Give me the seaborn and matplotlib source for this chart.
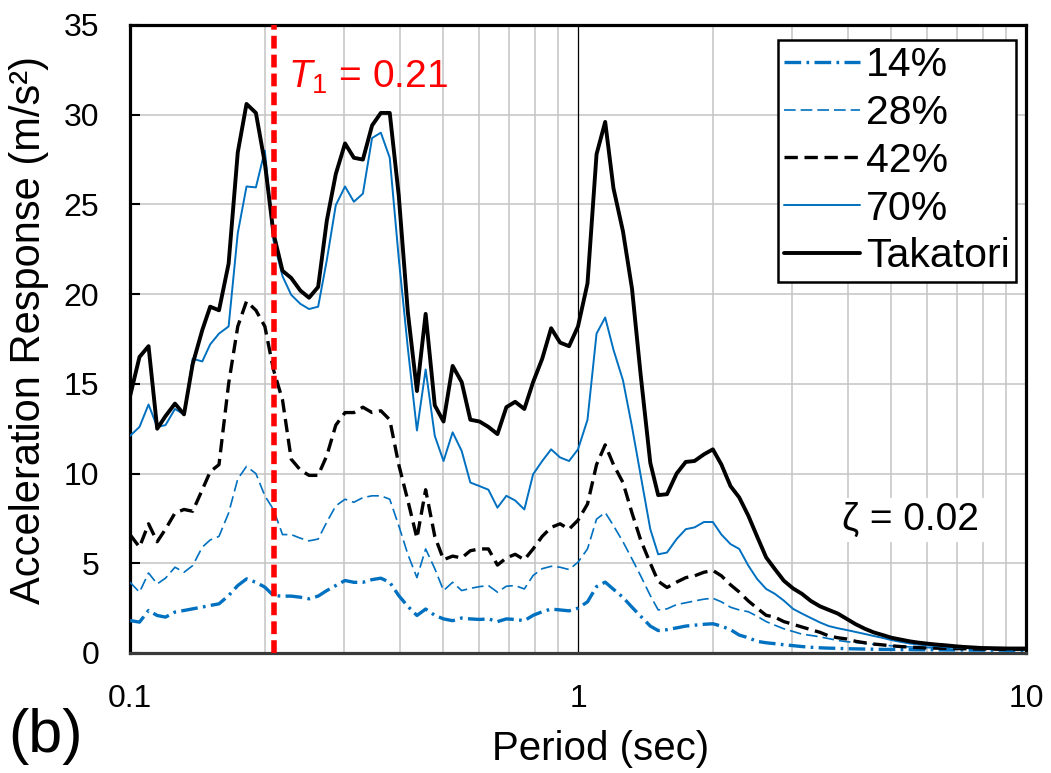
import matplotlib
matplotlib.use("Agg")
import matplotlib.pyplot as plt
import numpy as np
import pandas as pd
import seaborn as sns

# Response spectra of the Takatori record and its scaled versions (damping 2%)
periods = [
    0.1, 0.105, 0.11, 0.115, 0.12, 0.126, 0.132, 0.138, 0.145, 0.151,
    0.158, 0.166, 0.174, 0.182, 0.191, 0.2, 0.209, 0.219, 0.229, 0.24,
    0.251, 0.263, 0.275, 0.288, 0.302, 0.316, 0.331, 0.347, 0.363, 0.38,
    0.398, 0.417, 0.437, 0.457, 0.479, 0.501, 0.525, 0.55, 0.575, 0.603,
    0.631, 0.661, 0.692, 0.724, 0.759, 0.794, 0.832, 0.871, 0.912, 0.955,
    1.0, 1.05, 1.1, 1.15, 1.2, 1.26, 1.32, 1.38, 1.45, 1.51,
    1.58, 1.66, 1.74, 1.82, 1.91, 2.0, 2.09, 2.19, 2.29, 2.4,
    2.51, 2.63, 2.75, 2.88, 3.02, 3.16, 3.31, 3.47, 3.63, 3.8,
    3.98, 4.17, 4.37, 4.57, 4.79, 5.01, 5.25, 5.5, 5.75, 6.03,
    6.31, 6.61, 6.92, 7.24, 7.59, 7.94, 8.32, 8.71, 9.12, 9.55,
    10.0,
]

takatori = [
    14.3, 16.5, 17.1, 12.5, 13.2, 13.9, 13.3, 16.1, 18.0, 19.3,
    19.1, 21.7, 27.9, 30.6, 30.1, 27.3, 23.4, 21.3, 20.9, 20.2,
    19.8, 20.4, 24.1, 26.7, 28.4, 27.6, 27.5, 29.4, 30.1, 30.1,
    25.5, 19.0, 14.6, 18.9, 13.8, 12.9, 16.0, 15.1, 13.0, 12.9,
    12.6, 12.2, 13.7, 14.0, 13.6, 15.1, 16.4, 18.1, 17.3, 17.1,
    18.2, 20.6, 27.8, 29.6, 25.9, 23.5, 20.3, 15.5, 10.6, 8.8,
    8.85, 10.0, 10.65, 10.7, 11.07, 11.35, 10.5, 9.3, 8.67, 7.65,
    6.5, 5.33, 4.68, 4.03, 3.6, 3.3, 2.9, 2.6, 2.4, 2.2,
    1.9, 1.6, 1.35, 1.15, 1.0, 0.85, 0.75, 0.65, 0.58, 0.52,
    0.47, 0.43, 0.38, 0.34, 0.31, 0.28, 0.27, 0.26, 0.25, 0.25,
    0.25,
]

pct70 = [
    12.1, 12.6, 13.85, 12.6, 12.7, 13.6, 13.3, 16.4, 16.25, 17.2,
    17.8, 18.2, 23.4, 26.0, 25.95, 28.0, 23.0, 21.0, 19.96, 19.46,
    19.17, 19.3, 21.9, 24.96, 26.0, 25.15, 25.6, 28.7, 29.0, 27.6,
    22.0, 17.0, 12.4, 15.8, 12.1, 10.7, 12.3, 11.26, 9.5, 9.3,
    9.1, 8.1, 8.76, 8.5, 8.0, 9.96, 10.7, 11.35, 10.9, 10.7,
    11.35, 13.0, 17.8, 18.7, 16.9, 15.2, 12.6, 9.9, 6.9, 5.5,
    5.6, 6.35, 6.9, 7.0, 7.3, 7.3, 6.6, 6.07, 5.8, 4.87,
    4.13, 3.57, 3.3, 2.92, 2.46, 2.2, 1.95, 1.7, 1.5, 1.38,
    1.28, 1.17, 1.06, 0.95, 0.84, 0.72, 0.62, 0.53, 0.47, 0.42,
    0.38, 0.34, 0.31, 0.29, 0.27, 0.25, 0.24, 0.23, 0.22, 0.21,
    0.2,
]

pct42 = [
    6.6, 5.9, 7.2, 6.2, 6.9, 7.8, 8.0, 7.9, 9.1, 10.1,
    10.5, 15.0, 18.2, 19.6, 19.1, 18.2, 15.8, 14.1, 10.8, 10.2,
    9.9, 9.9, 11.0, 12.7, 13.4, 13.4, 13.7, 13.4, 13.5, 13.0,
    10.5, 8.5, 6.4, 9.1, 6.5, 5.2, 5.4, 5.3, 5.7, 5.8,
    5.8, 4.9, 5.3, 5.5, 5.2, 5.8, 6.5, 7.0, 7.2, 6.9,
    7.4, 8.3, 10.5, 11.6, 10.5, 9.5, 7.8, 6.3, 5.0, 4.0,
    3.65, 3.95, 4.2, 4.3, 4.5, 4.6, 4.3, 3.8, 3.4, 2.9,
    2.5, 2.1, 2.0, 1.75, 1.6, 1.45, 1.3, 1.15, 0.95, 0.85,
    0.78, 0.65, 0.57, 0.5, 0.45, 0.4, 0.36, 0.33, 0.3, 0.28,
    0.27, 0.26, 0.25, 0.24, 0.23, 0.22, 0.22, 0.21, 0.21, 0.2,
    0.2,
]

pct28 = [
    3.94, 3.39, 4.46, 3.85, 4.17, 4.78, 4.5, 4.87, 5.9, 6.3,
    6.5, 7.8, 9.7, 10.4, 10.0, 8.76, 8.0, 6.6, 6.6, 6.4,
    6.25, 6.35, 7.3, 8.2, 8.57, 8.4, 8.66, 8.76, 8.76, 8.57,
    7.1, 5.5, 4.2, 5.8, 4.7, 3.48, 3.94, 3.48, 3.6, 3.7,
    3.76, 3.39, 3.72, 3.76, 3.57, 4.32, 4.7, 4.83, 4.78, 4.65,
    5.06, 5.8, 7.46, 7.83, 7.1, 6.2, 5.24, 4.3, 3.2, 2.4,
    2.46, 2.7, 2.8, 2.9, 3.0, 3.05, 2.85, 2.55, 2.4, 2.3,
    2.05, 1.75, 1.55, 1.35, 1.2, 1.05, 0.98, 0.9, 0.8, 0.7,
    0.63, 0.58, 0.53, 0.48, 0.44, 0.4, 0.37, 0.34, 0.32, 0.3,
    0.29, 0.28, 0.26, 0.25, 0.24, 0.23, 0.22, 0.21, 0.21, 0.2,
    0.2,
]

pct14 = [
    1.81, 1.72, 2.37, 2.09, 2.0, 2.28, 2.37, 2.46, 2.56, 2.65,
    2.74, 3.2, 3.76, 4.13, 3.94, 3.67, 3.2, 3.17, 3.17, 3.11,
    3.02, 3.17, 3.48, 3.76, 4.04, 3.94, 3.94, 4.09, 4.17, 3.94,
    3.2, 2.6, 2.09, 2.45, 2.1, 1.9, 1.8, 1.95, 1.9, 1.87,
    1.9, 1.75, 1.9, 1.87, 1.8, 2.1, 2.3, 2.45, 2.4, 2.35,
    2.5, 2.85, 3.7, 3.95, 3.55, 3.1, 2.55, 2.05, 1.5, 1.25,
    1.3, 1.4, 1.5, 1.55, 1.6, 1.63, 1.5, 1.3, 1.0, 0.85,
    0.65, 0.57, 0.52, 0.46, 0.41, 0.36, 0.32, 0.29, 0.27, 0.26,
    0.24, 0.23, 0.22, 0.21, 0.2, 0.2, 0.19, 0.19, 0.18, 0.18,
    0.18, 0.17, 0.17, 0.17, 0.16, 0.16, 0.16, 0.16, 0.15, 0.15,
    0.15,
]

series_names = ["14%", "28%", "42%", "70%", "Takatori"]
t1_period = 0.21
damping_ratio = 0.02
y_ticks = [0, 5, 10, 15, 20, 25, 30, 35]
x_major = [0.1, 1, 10]
x_major_labels = ["0.1", "1", "10"]
x_minor = [0.2, 0.3, 0.4, 0.5, 0.6, 0.7, 0.8, 0.9, 2, 3, 4, 5, 6, 7, 8, 9]

BLUE = "#0070C0"
line_styles = {
    "14%": dict(color=BLUE, linewidth=2.4, linestyle=(0, (5.0, 1.6, 0.8, 1.6))),
    "28%": dict(color=BLUE, linewidth=1.2, linestyle=(0, (7.0, 3.0))),
    "42%": dict(color="black", linewidth=2.4, linestyle=(0, (4.0, 2.0))),
    "70%": dict(color=BLUE, linewidth=1.4, linestyle="-"),
    "Takatori": dict(color="black", linewidth=2.8, linestyle="-"),
}

sns.set_style("white")
plt.rcParams["font.family"] = ["Liberation Sans", "DejaVu Sans"]
plt.rcParams["mathtext.fontset"] = "custom"
plt.rcParams["mathtext.rm"] = "Liberation Sans"
plt.rcParams["mathtext.it"] = "Liberation Sans:italic"
for key in ["text.color", "axes.labelcolor", "xtick.color", "ytick.color"]:
    plt.rcParams[key] = "black"

W, H = 1051, 773
fig = plt.figure(figsize=(W / 100, H / 100), dpi=100)
ax = fig.add_axes([130 / W, 1 - 653 / H, 896 / W, 628 / H])

wide = pd.DataFrame({
    "Period": periods,
    "14%": pct14,
    "28%": pct28,
    "42%": pct42,
    "70%": pct70,
    "Takatori": takatori,
})
spectra = wide.melt(id_vars="Period", var_name="Case", value_name="Sa")

for name in series_names:
    sub = spectra[spectra["Case"] == name]
    sns.lineplot(data=sub, x="Period", y="Sa", ax=ax, label=name,
                 errorbar=None, estimator=None, sort=False,
                 zorder=3, **line_styles[name])

ax.set_xscale("log")
ax.set_xlim(0.1, 10)
ax.set_ylim(0, 35)
ax.set_xticks(x_major)
ax.set_xticklabels(x_major_labels)
ax.set_xticks(x_minor, minor=True)
ax.set_xticklabels([], minor=True)
ax.set_yticks(y_ticks)

ax.set_axisbelow(True)
ax.yaxis.grid(True, which="major", color="#C4C4C4", linewidth=1.1)
ax.xaxis.grid(True, which="minor", color="#C4C4C4", linewidth=1.1)
ax.xaxis.grid(False, which="major")
ax.axvline(1.0, color="black", linewidth=0.9, zorder=1.5)

ax.tick_params(axis="x", which="both", length=0, pad=22, labelsize=23,
               colors="black")
ax.tick_params(axis="y", which="major", direction="in", length=7, width=1.5,
               pad=22, labelsize=23, left=True, right=False, colors="black")

for side in ["left", "top", "right"]:
    ax.spines[side].set_color("black")
    ax.spines[side].set_linewidth(2.3)
ax.spines["bottom"].set_color("#3a3a3a")
ax.spines["bottom"].set_linewidth(2.3)

# first-mode period of the structure
ax.axvline(t1_period, color="#FF0000", linewidth=4.0,
           linestyle=(0, (2.3, 1.1)), zorder=4)
fig.text(288 / W, 1 - 88 / H, r"$T_1$ = " + f"{t1_period:.2f}",
         color="#FF0000", fontsize=28, ha="left", va="baseline")

fig.text(911 / W, 1 - 530 / H, f"ζ = {damping_ratio:.2f}", fontsize=28,
         ha="center", va="baseline", color="black",
         bbox=dict(facecolor="white", edgecolor="none", pad=3))

ax.set_xlabel("Period (sec)", fontsize=29, va="baseline", color="black")
ax.xaxis.set_label_coords((601 - 130) / 896, (653 - 760) / 628)
ax.set_ylabel("Acceleration Response (m/s²)", fontsize=30, va="center",
              color="black")
ax.yaxis.set_label_coords((29 - 130) / 896, (653 - 330) / 628)

fig.text(8 / W, 1 - 752 / H, "(b)", fontsize=44, ha="left", va="baseline",
         color="black")

leg = ax.legend(loc="upper right", bbox_to_anchor=((1016 - 130) / 896, (653 - 40) / 628),
                fontsize=29.5, frameon=True, fancybox=False, edgecolor="black",
                framealpha=1, borderaxespad=0, handlelength=1.85,
                handletextpad=0.15, labelspacing=0.24, borderpad=0.15)
leg.get_frame().set_linewidth(1.8)
for txt in leg.get_texts():
    txt.set_color("black")

fig.savefig("out.png", dpi=100)
